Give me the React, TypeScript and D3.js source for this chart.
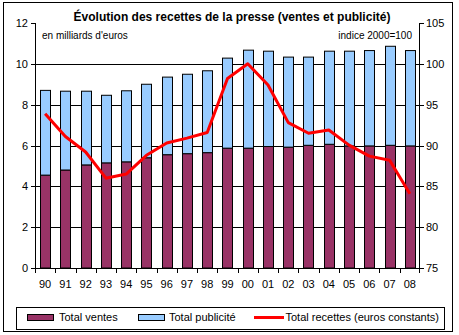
import React from "react";
import * as d3 from "d3";

const categories = ["90","91","92","93","94","95","96","97","98","99","00","01","02","03","04","05","06","07","08"];
const totalVentes = [4.55,4.8,5.05,5.15,5.2,5.4,5.55,5.6,5.65,5.87,5.87,5.95,5.92,6.01,6.06,5.98,5.98,6.01,5.98];
const totalBars = [8.7,8.66,8.66,8.46,8.68,9.0,9.35,9.49,9.66,10.28,10.67,10.62,10.33,10.33,10.62,10.62,10.65,10.86,10.65];
const totalPublicite = totalBars.map((t, i) => +(t - totalVentes[i]).toFixed(2));
const totalRecettes = [93.9,91.1,89.2,86.0,86.5,88.8,90.3,90.9,91.6,98.2,100.0,97.4,92.8,91.5,91.9,90.05,88.7,88.2,84.1];
const leftTicks = [0,2,4,6,8,10,12];
const rightTicks = [75,80,85,90,95,100,105];

const W = 459, H = 335;
const FONT = "'Liberation Sans', Arial, sans-serif";
const PURPLE = "#993366";
const BLUE = "#99CCFF";

export default function App() {
  const x = d3.scaleBand<string>().domain(categories).range([35, 420]).paddingInner(0.5).paddingOuter(0.25);
  const yL = d3.scaleLinear().domain([0, 12]).range([268, 23]);
  const yR = d3.scaleLinear().domain([75, 105]).range([268, 23]);
  const step = x.step();
  const line = d3.line<number>()
    .x((_, i) => (x(categories[i]) as number) + x.bandwidth() / 2)
    .y((d) => yR(d));

  return (
    <svg width={W} height={H} style={{ position: "absolute", left: 0, top: 0, fontFamily: FONT }}>
      <rect x={0} y={0} width={W} height={H} fill="white" />
      <rect x={3.5} y={2.5} width={449} height={329} fill="white" stroke="black" strokeWidth={1} />
      <text x={232} y={21} textAnchor="middle" fontSize={12} fontWeight="bold">
        Évolution des recettes de la presse (ventes et publicité)
      </text>
      <text x={42} y={39} fontSize={10}>en milliards d'euros</text>
      <text x={412} y={39} fontSize={10} textAnchor="end">indice 2000=100</text>

      {/* gridlines */}
      {leftTicks.filter((t) => t > 0 && t < 12).map((t) => (
        <line key={"g" + t} x1={35} x2={420} y1={Math.round(yL(t)) + 0.5} y2={Math.round(yL(t)) + 0.5} stroke="black" />
      ))}

      {/* bars */}
      {categories.map((c, i) => {
        const bx = Math.round(x(c) as number) + 0.5;
        const bw = Math.round(x.bandwidth());
        const yv = yL(totalVentes[i]);
        const yt = yL(totalVentes[i] + totalPublicite[i]);
        return (
          <g key={c}>
            <rect x={bx} y={yv} width={bw} height={yL(0) - yv} fill={PURPLE} stroke="black" strokeWidth={1} />
            <rect x={bx} y={yt} width={bw} height={yv - yt} fill={BLUE} stroke="black" strokeWidth={1} />
          </g>
        );
      })}

      {/* axes */}
      <line x1={35.5} x2={35.5} y1={23} y2={268} stroke="black" />
      <line x1={419.5} x2={419.5} y1={23} y2={268} stroke="black" />
      <line x1={35} x2={420} y1={268.5} y2={268.5} stroke="black" />
      {leftTicks.map((t) => (
        <g key={"l" + t}>
          <line x1={31} x2={35} y1={Math.round(yL(t)) + 0.5} y2={Math.round(yL(t)) + 0.5} stroke="black" />
          <text x={28} y={yL(t) + 4} textAnchor="end" fontSize={11}>{t}</text>
        </g>
      ))}
      {rightTicks.map((t) => (
        <g key={"r" + t}>
          <line x1={420} x2={424} y1={Math.round(yR(t)) + 0.5} y2={Math.round(yR(t)) + 0.5} stroke="black" />
          <text x={426} y={yR(t) + 4} textAnchor="start" fontSize={11}>{t}</text>
        </g>
      ))}
      {categories.map((c, i) => {
        const bx = 35 + step * i;
        return (
          <g key={"x" + c}>
            <line x1={Math.round(bx) + 0.5} x2={Math.round(bx) + 0.5} y1={268} y2={273} stroke="black" />
            <text x={(x(c) as number) + x.bandwidth() / 2} y={288} textAnchor="middle" fontSize={11}>{c}</text>
          </g>
        );
      })}
      <line x1={419.5} x2={419.5} y1={268} y2={273} stroke="black" />

      {/* line */}
      <path d={line(totalRecettes) || ""} fill="none" stroke="#FF0000" strokeWidth={3} strokeLinejoin="round" />

      {/* legend */}
      <rect x={16.5} y={307.5} width={428} height={22} fill="white" stroke="black" />
      <rect x={27.5} y={314.5} width={26} height={6} fill={PURPLE} stroke="black" />
      <text x={59} y={321} fontSize={11}>Total ventes</text>
      <rect x={138.5} y={314.5} width={26} height={6} fill={BLUE} stroke="black" />
      <text x={169} y={321} fontSize={11}>Total publicité</text>
      <line x1={254} x2={284} y1={317.5} y2={317.5} stroke="#FF0000" strokeWidth={3} />
      <text x={285.5} y={321} fontSize={11}>Total recettes (euros constants)</text>
    </svg>
  );
}
